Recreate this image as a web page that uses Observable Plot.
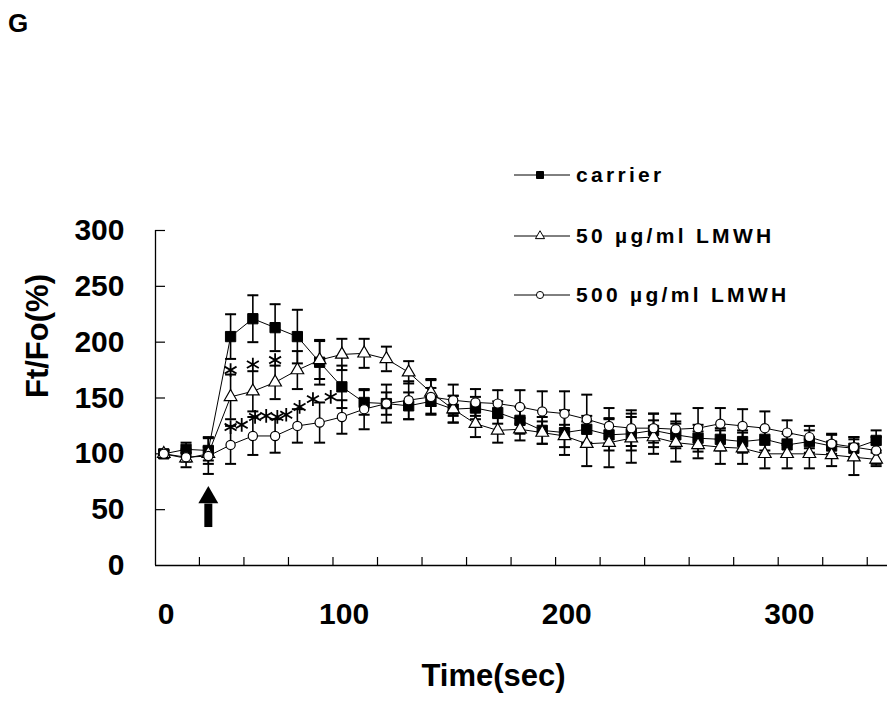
<!DOCTYPE html>
<html><head><meta charset="utf-8">
<script src="https://cdn.jsdelivr.net/npm/d3@7"></script>
<script src="https://cdn.jsdelivr.net/npm/@observablehq/plot@0.6"></script>
<style>
html,body{margin:0;padding:0;background:#fff;}
#wrap{position:relative;width:894px;height:702px;overflow:hidden;font-family:"Liberation Sans",Arial,sans-serif;background:#fff;}
#chart{position:absolute;left:0;top:0;}
#legend{position:absolute;left:0;top:0;}
#panel{position:absolute;left:8px;top:10px;font-size:26px;font-weight:bold;line-height:26px;}
</style></head><body>
<div id="wrap"><div id="chart"></div><svg id="legend" width="894" height="702"></svg><div id="panel">G</div></div>
<script>
// ---- data ----
const times = [0,10,20,30,40,50,60,70,80,90,100,110,120,130,140,150,160,170,180,190,200,210,220,230,240,250,260,270,280,290,300,310,320];
const carrierMean = [100,104,103,205,221,213,205,182,160,146,145,143,147,140,141,137,130,121,119,122,117,118,121,117,114,113,111,113,108,111,107,105,112];
const carrierErr  = [3,6,12,20,21,21,24,20,19,11,10,12,12,12,10,10,12,12,20,12,14,15,15,12,12,10,10,10,10,10,10,10,9];
const lmwh50Mean  = [100,96,100,151,156,164,175,184,189,190,185,173,155,140,127,121,122,119,116,109,110,114,115,110,108,106,105,100,100,100,99,97,95];
const lmwh50Err   = [3,8,6,20,18,15,17,17,14,13,11,10,12,12,12,11,10,10,10,20,22,22,15,17,12,15,14,13,13,13,10,16,6];
const lmwh500Mean = [100,97,98,108,116,116,125,128,133,140,145,148,151,148,146,145,142,138,136,131,125,123,123,122,123,127,125,123,119,115,109,106,103];
const lmwh500Err  = [3,4,16,17,17,15,15,18,15,18,17,17,15,14,12,12,15,18,20,22,16,16,13,14,18,14,15,15,11,10,9,9,12];
const seriesNames = ["carrier","50 µg/ml LMWH","500 µg/ml LMWH"];
const starUpperT = [30,40,50];
const starUpperV = [175,180,184];
const starLowerT = [30,35,41,46,51,55,61,67,75];
const starLowerV = [124,126,133,134,133,135,142,149,151];
const yTicks = [0,50,100,150,200,250,300];
const xTickLabels = ["0","100","200","300"];
const xTickLabelAt = [1,81,181,281];
const xMinorTicks = [16,36,56,76,96,116,136,156,176,196,216,236,256,276,296,316];
const arrowTime = 20, arrowTail = 34, arrowNeck = 55, arrowHeadCenter = 61;
const xDomain = [-3.73, 325.1];
const yDomain = [0, 300];
const yLabel = "Ft/Fo(%)";
const xLabel = "Time(sec)";

// ---- layout ----
const W = 894, H = 702, mL = 155, mR = 7, mT = 230, mB = 137;
const frameW = W - mL - mR, frameH = H - mT - mB;
const font = '"Liberation Sans", Arial, sans-serif';

const mk = (mean, err) => times.map((t, i) => ({t, v: mean[i], e: err[i]}));
const carrier = mk(carrierMean, carrierErr);
const low = mk(lmwh50Mean, lmwh50Err);
const high = mk(lmwh500Mean, lmwh500Err);
const starsUpper = starUpperT.map((t, i) => ({t, v: starUpperV[i]}));
const starsLower = starLowerT.map((t, i) => ({t, v: starLowerV[i]}));

const cap = {draw(ctx, size) { const w = 5.5; ctx.moveTo(-w, 0); ctx.lineTo(w, 0); }};

function errMarks(rows) {
  return [
    Plot.ruleX(rows, {x: "t", y1: d => d.v - d.e, y2: d => d.v + d.e, stroke: "black", strokeWidth: 1.6}),
    Plot.dot(rows, {x: "t", y: d => d.v + d.e, symbol: cap, r: 5, fill: "none", stroke: "black", strokeWidth: 2}),
    Plot.dot(rows, {x: "t", y: d => d.v - d.e, symbol: cap, r: 5, fill: "none", stroke: "black", strokeWidth: 2})
  ];
}

const chart = Plot.plot({
  width: W, height: H,
  marginLeft: mL, marginRight: mR, marginTop: mT, marginBottom: mB,
  style: {fontFamily: font, background: "white", overflow: "visible"},
  x: {type: "linear", domain: xDomain, axis: null},
  y: {type: "linear", domain: yDomain, axis: null},
  marks: [
    // axes
    Plot.ruleY([yDomain[0]], {stroke: "black", strokeWidth: 1.3}),
    Plot.ruleX([xDomain[0]], {stroke: "black", strokeWidth: 1.3}),
    Plot.tickY(yTicks.filter(d => d > 0), {y: d => d, stroke: "black", strokeWidth: 1.2, insetRight: frameW - 10}),
    Plot.tickX(xMinorTicks, {x: d => d, stroke: "black", strokeWidth: 1.2, insetTop: frameH - 8}),
    Plot.text(yTicks, {y: d => d, text: d => String(d), frameAnchor: "left", textAnchor: "end", dx: -31,
      fontSize: 30, fontWeight: "bold", fill: "black", fontFamily: font}),
    Plot.text(xTickLabelAt, {x: d => d, text: (d, i) => xTickLabels[i], frameAnchor: "bottom", lineAnchor: "top", dy: 37,
      fontSize: 30, fontWeight: "bold", fill: "black", fontFamily: font}),
    Plot.text([xLabel], {frameAnchor: "bottom", lineAnchor: "top", dy: 98, dx: -28,
      fontSize: 31, fontWeight: "bold", fill: "black", fontFamily: font}),
    Plot.text([yLabel], {frameAnchor: "left", rotate: -90, dx: -117, lineAnchor: "middle",
      fontSize: 31, fontWeight: "bold", fill: "black", fontFamily: font}),
    // error bars
    ...errMarks(carrier),
    ...errMarks(low),
    ...errMarks(high),
    // lines
    Plot.line(carrier, {x: "t", y: "v", stroke: "black", strokeWidth: 1}),
    Plot.line(low, {x: "t", y: "v", stroke: "black", strokeWidth: 1}),
    Plot.line(high, {x: "t", y: "v", stroke: "black", strokeWidth: 1}),
    // markers
    Plot.dot(carrier, {x: "t", y: "v", symbol: "square", r: 5.8, fill: "black", stroke: "black", strokeWidth: 1}),
    Plot.dot(low, {x: "t", y: "v", symbol: "triangle", r: 4.7, fill: "white", stroke: "black", strokeWidth: 1.2}),
    Plot.dot(high, {x: "t", y: "v", symbol: "circle", r: 4.6, fill: "white", stroke: "black", strokeWidth: 1.2}),
    // significance stars
    Plot.dot(starsUpper, {x: "t", y: "v", symbol: "asterisk", r: 6.5, stroke: "black", strokeWidth: 1.8}),
    Plot.dot(starsLower, {x: "t", y: "v", symbol: "asterisk", r: 6.5, stroke: "black", strokeWidth: 1.8}),
    // stimulus arrow
    Plot.ruleX([arrowTime], {x: d => d, y1: arrowTail, y2: arrowNeck, stroke: "black", strokeWidth: 8}),
    Plot.dot([arrowTime], {x: d => d, y: arrowHeadCenter, symbol: "triangle", r: 7.4, fill: "black", stroke: "none"})
  ]
});
document.getElementById("chart").appendChild(chart);

// ---- legend ----
const legendRows = [
  {label: seriesNames[0], symbol: d3.symbolSquare, size: 49, fill: "black", y: 175},
  {label: seriesNames[1], symbol: d3.symbolTriangle, size: 36, fill: "white", y: 236},
  {label: seriesNames[2], symbol: d3.symbolCircle, size: 40, fill: "white", y: 295}
];
const lg = d3.select("#legend");
legendRows.forEach(r => {
  const g = lg.append("g");
  g.append("line").attr("x1", 514).attr("x2", 570).attr("y1", r.y).attr("y2", r.y)
    .attr("stroke", "black").attr("stroke-width", 1);
  g.append("path").attr("d", d3.symbol(r.symbol, r.size)()).attr("transform", `translate(540,${r.y})`)
    .attr("fill", r.fill).attr("stroke", "black").attr("stroke-width", 1);
  g.append("text").attr("x", 576).attr("y", r.y).attr("dy", "0.35em")
    .attr("font-family", font).attr("font-size", 21).attr("font-weight", "bold")
    .attr("letter-spacing", "3.3px").attr("fill", "black").text(r.label);
});
</script>
</body></html>
